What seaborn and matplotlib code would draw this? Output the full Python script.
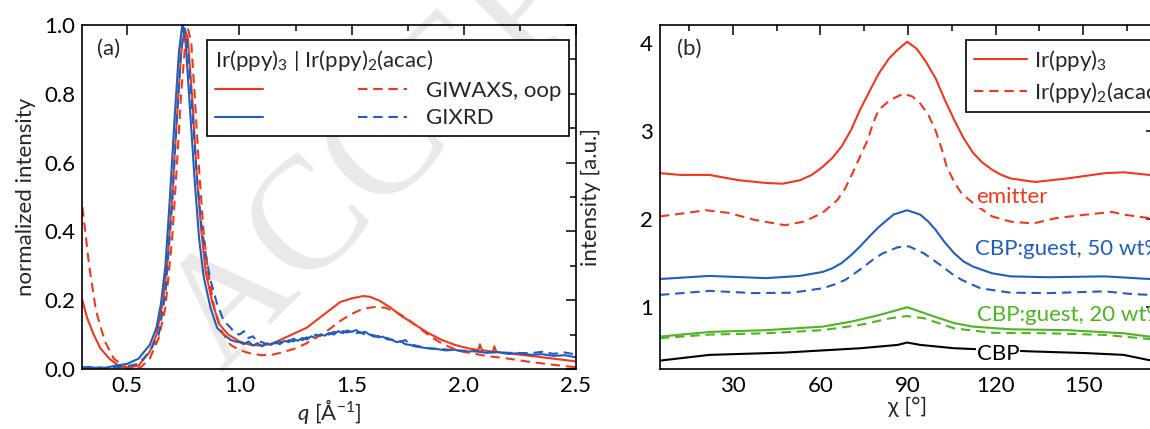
"""GIWAXS / GIXRD comparison, two panels"""

import matplotlib
matplotlib.use("Agg")

import matplotlib.pyplot as plt
import seaborn as sns
from matplotlib.ticker import MultipleLocator


# ---- panel (a): q in 1/Angstrom, normalized intensity ----
q_red_solid = [0.30, 0.32, 0.35, 0.38, 0.42, 0.46, 0.50, 0.55, 0.60, 0.63, 0.66, 0.68, 0.70,
               0.72, 0.74, 0.755, 0.77, 0.79, 0.81, 0.83, 0.85, 0.88, 0.91, 0.95, 1.00, 1.05,
               1.10, 1.15, 1.20, 1.25, 1.30, 1.35, 1.40, 1.45, 1.50, 1.55, 1.58, 1.62, 1.67,
               1.72, 1.78, 1.84, 1.90, 1.96, 2.02, 2.065, 2.072, 2.08, 2.13, 2.136, 2.145,
               2.20, 2.30, 2.40, 2.50]
i_red_solid = [0.20, 0.15, 0.10, 0.06, 0.03, 0.01, 0.003, 0.01, 0.05, 0.10, 0.20, 0.32, 0.50,
               0.72, 0.92, 0.99, 0.96, 0.78, 0.56, 0.40, 0.28, 0.19, 0.13, 0.10, 0.08, 0.07,
               0.068, 0.075, 0.09, 0.105, 0.12, 0.145, 0.17, 0.195, 0.205, 0.212, 0.21, 0.20,
               0.18, 0.155, 0.13, 0.105, 0.085, 0.07, 0.06, 0.055, 0.072, 0.055, 0.05, 0.066,
               0.05, 0.045, 0.038, 0.03, 0.022]

q_red_dash = [0.30, 0.33, 0.36, 0.40, 0.44, 0.48, 0.52, 0.56, 0.60, 0.64, 0.67, 0.70, 0.72,
              0.74, 0.76, 0.77, 0.785, 0.80, 0.82, 0.84, 0.86, 0.89, 0.92, 0.96, 1.00, 1.05,
              1.10, 1.15, 1.20, 1.25, 1.30, 1.35, 1.40, 1.45, 1.50, 1.55, 1.60, 1.65, 1.70,
              1.75, 1.80, 1.85, 1.90, 1.95, 2.00, 2.10, 2.20, 2.30, 2.40, 2.50]
i_red_dash = [0.47, 0.30, 0.17, 0.08, 0.03, 0.01, 0.0, 0.005, 0.03, 0.09, 0.18, 0.38, 0.58,
              0.80, 0.96, 0.99, 0.95, 0.80, 0.58, 0.40, 0.28, 0.17, 0.11, 0.07, 0.055, 0.045,
              0.04, 0.042, 0.05, 0.06, 0.075, 0.095, 0.115, 0.14, 0.16, 0.175, 0.18, 0.178,
              0.165, 0.145, 0.12, 0.095, 0.075, 0.06, 0.05, 0.038, 0.03, 0.02, 0.012, 0.005]

q_blue_solid = [0.30, 0.35, 0.40, 0.45, 0.50, 0.55, 0.60, 0.63, 0.65, 0.67, 0.69, 0.71, 0.73,
                0.745, 0.76, 0.78, 0.80, 0.82, 0.84, 0.87, 0.90, 0.93, 0.96, 0.98, 1.00, 1.02,
                1.04, 1.06, 1.08, 1.10, 1.12, 1.14, 1.16, 1.18, 1.20, 1.22, 1.24, 1.26, 1.28,
                1.30, 1.32, 1.34, 1.36, 1.38, 1.40, 1.42, 1.44, 1.46, 1.48, 1.50, 1.52, 1.54,
                1.56, 1.58, 1.60, 1.62, 1.64, 1.66, 1.68, 1.70, 1.72, 1.74, 1.76, 1.78, 1.80,
                1.84, 1.88, 1.92, 1.96, 2.00, 2.05, 2.10, 2.15, 2.20, 2.25, 2.30, 2.35, 2.40,
                2.45, 2.50]
i_blue_solid = [0.005, 0.004, 0.003, 0.01, 0.015, 0.03, 0.07, 0.12, 0.19, 0.30, 0.50, 0.72, 0.92,
                1.0, 0.95, 0.75, 0.55, 0.38, 0.27, 0.18, 0.12, 0.10, 0.085, 0.08, 0.078, 0.072,
                0.08, 0.068, 0.075, 0.066, 0.074, 0.07, 0.078, 0.072, 0.082, 0.078, 0.088, 0.082,
                0.09, 0.086, 0.095, 0.09, 0.10, 0.097, 0.105, 0.10, 0.11, 0.104, 0.112, 0.108,
                0.113, 0.105, 0.108, 0.10, 0.098, 0.092, 0.094, 0.086, 0.085, 0.078, 0.08,
                0.072, 0.07, 0.066, 0.064, 0.06, 0.058, 0.054, 0.056, 0.05, 0.052, 0.047, 0.049,
                0.044, 0.046, 0.041, 0.043, 0.038, 0.04, 0.034]

q_blue_dash = [0.30, 0.35, 0.40, 0.45, 0.50, 0.55, 0.60, 0.64, 0.67, 0.70, 0.72, 0.74, 0.755,
               0.77, 0.79, 0.81, 0.83, 0.85, 0.87, 0.90, 0.93, 0.96, 0.98, 1.00, 1.02, 1.04,
               1.06, 1.08, 1.10, 1.12, 1.14, 1.16, 1.18, 1.20, 1.22, 1.24, 1.26, 1.28, 1.30,
               1.32, 1.34, 1.36, 1.38, 1.40, 1.42, 1.44, 1.46, 1.48, 1.50, 1.52, 1.54, 1.56,
               1.58, 1.60, 1.62, 1.64, 1.66, 1.68, 1.70, 1.72, 1.74, 1.76, 1.80, 1.85, 1.90,
               1.95, 2.00, 2.10, 2.20, 2.30, 2.35, 2.40, 2.45, 2.50]
i_blue_dash = [0.004, 0.006, 0.003, 0.005, 0.008, 0.015, 0.05, 0.10, 0.22, 0.48, 0.72, 0.93, 0.99,
               0.93, 0.75, 0.56, 0.42, 0.33, 0.26, 0.19, 0.14, 0.12, 0.105, 0.10, 0.11, 0.09,
               0.095, 0.08, 0.078, 0.072, 0.08, 0.074, 0.08, 0.076, 0.084, 0.08, 0.088, 0.084,
               0.092, 0.088, 0.10, 0.096, 0.104, 0.10, 0.108, 0.104, 0.11, 0.106, 0.11, 0.104,
               0.106, 0.10, 0.10, 0.094, 0.096, 0.09, 0.09, 0.084, 0.086, 0.08, 0.084, 0.072,
               0.066, 0.06, 0.058, 0.055, 0.053, 0.05, 0.047, 0.046, 0.05, 0.044, 0.048, 0.042]

# ---- panel (b): chi in degrees, intensity offset per sample ----
chi_emit_solid = [5, 12, 22, 32, 41, 47, 53, 57, 60.7, 64, 67.2, 70.5, 73.6, 77, 80, 83.5, 86.5,
                  89.7, 93, 96, 99.4, 102.5, 105.9, 109, 112.3, 115.5, 118.8, 122, 125.2,
                  133.6, 144.6, 157.5, 163.9, 172.7, 175]
i_emit_solid = [2.52, 2.50, 2.50, 2.44, 2.41, 2.40, 2.44, 2.50, 2.59, 2.69, 2.82, 3.01, 3.24,
                3.46, 3.65, 3.82, 3.92, 4.01, 3.93, 3.79, 3.60, 3.36, 3.12, 2.92, 2.75, 2.64,
                2.56, 2.50, 2.46, 2.42, 2.46, 2.52, 2.53, 2.50, 2.50]

chi_emit_dash = [5, 12, 20.7, 28.5, 37.5, 47.8, 54.3, 60.7, 65.9, 68.5, 71, 73.6, 76.2, 78.2, 80,
                 83.9, 88.4, 91.5, 94.2, 97, 99.4, 101.5, 103.3, 106, 108.4, 112.3, 118.8, 125.2,
                 133, 140.7, 151, 160, 164, 172.7, 175]
i_emit_dash = [2.03, 2.06, 2.10, 2.07, 1.99, 1.93, 1.97, 2.07, 2.22, 2.35, 2.52, 2.71, 2.90,
               3.10, 3.24, 3.35, 3.42, 3.39, 3.31, 3.18, 3.01, 2.80, 2.59, 2.41, 2.29, 2.18,
               2.03, 1.97, 1.95, 2.01, 2.05, 2.08, 2.05, 2.01, 2.00]

chi_50_solid = [5, 22, 41.4, 53, 60.7, 64, 67.2, 70.5, 73.6, 77, 80, 85, 89.7, 94.2, 97, 99.4,
                102.5, 105.9, 109, 112.3, 118.8, 125.2, 138.1, 157.5, 172.7, 175]
i_50_solid = [1.32, 1.355, 1.33, 1.355, 1.40, 1.44, 1.50, 1.59, 1.69, 1.81, 1.91, 2.05, 2.10,
              2.05, 1.97, 1.88, 1.74, 1.61, 1.52, 1.46, 1.385, 1.35, 1.34, 1.35, 1.32, 1.32]

chi_50_dash = [5, 22, 37.5, 50.4, 60.7, 65, 68.5, 72, 74.9, 78, 81.3, 86.5, 90.4, 95.5, 98.5,
               101.9, 105, 108.4, 114.8, 125.2, 138.1, 157.5, 166.5, 172.7, 175]
i_50_dash = [1.14, 1.185, 1.16, 1.165, 1.215, 1.26, 1.31, 1.39, 1.46, 1.54, 1.61, 1.68, 1.69,
             1.61, 1.54, 1.46, 1.38, 1.31, 1.215, 1.165, 1.16, 1.18, 1.15, 1.14, 1.14]

chi_20_solid = [5, 22, 41.4, 60.7, 71, 80, 86.5, 89.7, 94.2, 99.4, 105.9, 112.3, 125.2, 144.6,
                163.9, 172.7, 175]
i_20_solid = [0.667, 0.72, 0.74, 0.78, 0.84, 0.91, 0.97, 1.0, 0.95, 0.89, 0.82, 0.78, 0.75,
              0.74, 0.705, 0.667, 0.66]

chi_20_dash = [5, 22, 41.4, 60.7, 73.6, 83.9, 89.7, 95.5, 105.9, 118.8, 138.1, 157.5, 172.7, 175]
i_20_dash = [0.65, 0.69, 0.705, 0.74, 0.80, 0.875, 0.90, 0.875, 0.76, 0.71, 0.705, 0.686,
             0.64, 0.635]

chi_cbp = [5, 22, 47.8, 73.6, 86.5, 89.7, 94.2, 105.9, 131.7, 151, 163.9, 172.7, 175]
i_cbp = [0.395, 0.46, 0.486, 0.535, 0.573, 0.60, 0.573, 0.535, 0.50, 0.48, 0.46, 0.40, 0.39]

RED = "#f2381c"
BLUE = "#1f5ebd"
GREEN = "#4db51f"
DASH = (0, (4.5, 2.8))
FS = 16

sns.set_theme(style="white")
plt.rcParams["font.family"] = ["Lato", "DejaVu Sans"]
plt.rcParams["mathtext.fontset"] = "custom"
plt.rcParams["mathtext.rm"] = "Lato"
plt.rcParams["mathtext.it"] = "Lato:italic"
plt.rcParams["mathtext.default"] = "regular"
plt.rcParams["font.size"] = FS
plt.rcParams["axes.labelsize"] = FS
plt.rcParams["legend.fontsize"] = FS

fig = plt.figure(figsize=(11.5, 4.29), dpi=100)

# journal watermark, behind both panels
fig.text(0.193, 0.13, "ACCEPTED MANUSCRIPT", fontsize=115, color="#e9e9e9",
         rotation=45, rotation_mode="anchor", family="Liberation Serif",
         ha="left", va="baseline", zorder=-1)

ax1 = fig.add_axes([0.0717, 0.1399, 0.4291, 0.8019])
ax2 = fig.add_axes([0.5739, 0.1399, 0.4313, 0.8019])
for ax in (ax1, ax2):
    ax.set_facecolor("none")

lw = 1.5
sns.lineplot(x=q_red_solid, y=i_red_solid, ax=ax1, color=RED, lw=lw, sort=False)
sns.lineplot(x=q_blue_solid, y=i_blue_solid, ax=ax1, color=BLUE, lw=lw, sort=False)
sns.lineplot(x=q_red_dash, y=i_red_dash, ax=ax1, color=RED, lw=lw, linestyle=DASH, sort=False)
sns.lineplot(x=q_blue_dash, y=i_blue_dash, ax=ax1, color=BLUE, lw=lw, linestyle=DASH, sort=False)

ax1.set_xlim(0.3, 2.5)
ax1.set_ylim(0, 1.0)
ax1.xaxis.set_major_locator(MultipleLocator(0.5))
ax1.xaxis.set_minor_locator(MultipleLocator(0.25))
ax1.yaxis.set_major_locator(MultipleLocator(0.2))
ax1.yaxis.set_minor_locator(MultipleLocator(0.1))
ax1.set_xlabel(r"$\mathit{q}$ [Å$^{-1}$]", labelpad=1)
ax1.set_ylabel("normalized intensity", labelpad=6)
ax1.text(0.03, 0.93, "(a)", transform=ax1.transAxes, ha="left", va="center")

h = ax1.get_lines()
leg1 = ax1.legend([h[0], h[1], h[2], h[3]], ["", "", "GIWAXS, oop", "GIXRD"], ncol=2,
                  title=r"Ir(ppy)$_3$ | Ir(ppy)$_2$(acac)", loc="upper left",
                  bbox_to_anchor=(0.252, 0.956), borderaxespad=0, frameon=True,
                  framealpha=1, fancybox=False, edgecolor="black", handlelength=2.2,
                  columnspacing=3.4, handletextpad=0.85, borderpad=0.35,
                  labelspacing=0.35, title_fontsize=FS)
leg1._legend_box.align = "left"
leg1.get_frame().set_linewidth(1.2)

sns.lineplot(x=chi_emit_solid, y=i_emit_solid, ax=ax2, color=RED, lw=lw, sort=False)
sns.lineplot(x=chi_emit_dash, y=i_emit_dash, ax=ax2, color=RED, lw=lw, linestyle=DASH, sort=False)
sns.lineplot(x=chi_50_solid, y=i_50_solid, ax=ax2, color=BLUE, lw=lw, sort=False)
sns.lineplot(x=chi_50_dash, y=i_50_dash, ax=ax2, color=BLUE, lw=lw, linestyle=DASH, sort=False)
sns.lineplot(x=chi_20_solid, y=i_20_solid, ax=ax2, color=GREEN, lw=lw, sort=False)
sns.lineplot(x=chi_20_dash, y=i_20_dash, ax=ax2, color=GREEN, lw=lw, linestyle=DASH, sort=False)
sns.lineplot(x=chi_cbp, y=i_cbp, ax=ax2, color="black", lw=lw, sort=False)

ax2.set_xlim(5, 175)
ax2.set_ylim(0.3, 4.2)
ax2.xaxis.set_major_locator(MultipleLocator(30))
ax2.xaxis.set_minor_locator(MultipleLocator(15))
ax2.yaxis.set_major_locator(MultipleLocator(1))
ax2.yaxis.set_minor_locator(MultipleLocator(0.5))
ax2.set_xlabel("χ [°]", labelpad=1)
ax2.set_ylabel("intensity [a.u.]", labelpad=28)
ax2.text(0.035, 0.93, "(b)", transform=ax2.transAxes, ha="left", va="center")

box = dict(facecolor="white", edgecolor="none", pad=0.5)
ax2.text(113.5, 2.25, "emitter", color=RED, ha="left", va="center", bbox=box)
ax2.text(113, 1.66, "CBP:guest, 50 wt%", color=BLUE, ha="left", va="center")
ax2.text(113.5, 0.91, "CBP:guest, 20 wt%", color=GREEN, ha="left", va="center")
ax2.text(113.5, 0.47, "CBP", color="black", ha="left", va="center", bbox=box)

h2 = ax2.get_lines()
leg2 = ax2.legend([h2[0], h2[1]], [r"Ir(ppy)$_3$", r"Ir(ppy)$_2$(acac)"], loc="upper left",
                  bbox_to_anchor=(0.617, 0.956), borderaxespad=0, frameon=True,
                  framealpha=1, fancybox=False, edgecolor="black", handlelength=2.4,
                  handletextpad=0.3, borderpad=0.35, labelspacing=0.3)
leg2.get_frame().set_linewidth(1.2)

for ax in (ax1, ax2):
    for s in ax.spines.values():
        s.set_color("black")
        s.set_linewidth(1.2)
    ax.tick_params(which="both", direction="in", top=True, right=True, colors="black",
                   labelsize=FS, width=1.1)
    ax.tick_params(which="major", length=7, pad=5)
    ax.tick_params(which="minor", length=4)
    ax.grid(False)

fig.savefig("out.png", dpi=100)
